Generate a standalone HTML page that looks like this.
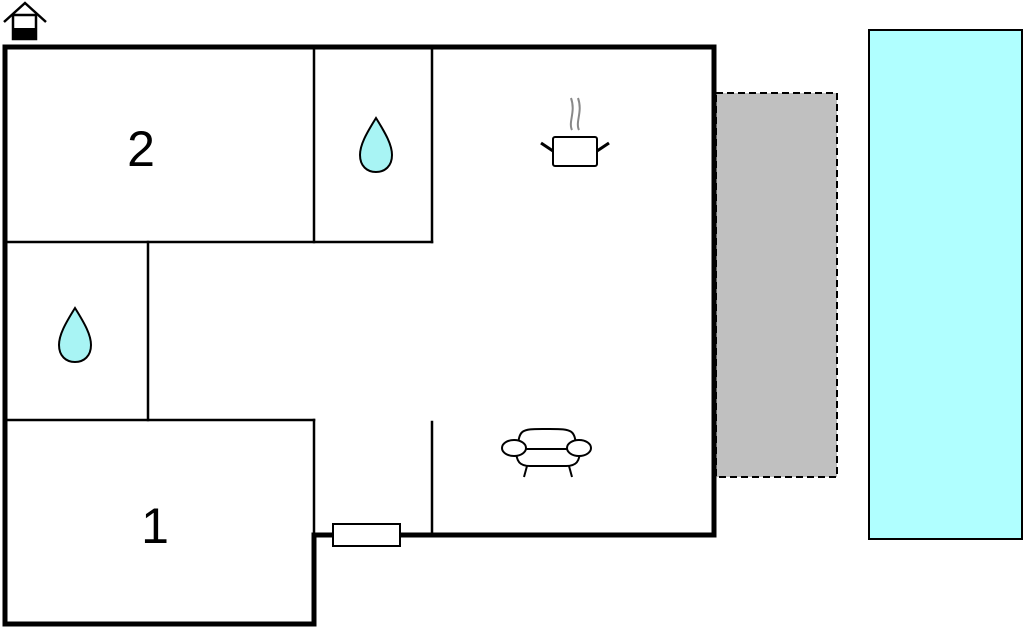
<!DOCTYPE html>
<html><head><meta charset="utf-8"><style>
html,body{margin:0;padding:0;background:#fff;width:1024px;height:627px;overflow:hidden}
svg{display:block}
</style></head><body>
<svg width="1024" height="627" viewBox="0 0 1024 627" xmlns="http://www.w3.org/2000/svg">
<rect x="716" y="93" width="121" height="384" fill="#c0c0c0" stroke="#000" stroke-width="2" stroke-dasharray="7,4"/>
<rect x="869" y="30" width="153" height="509" fill="#b0ffff" stroke="#000" stroke-width="2"/>
<g stroke="#000" fill="none" stroke-linecap="square">
<path d="M5 47 H714 V535 H314 V624 H5 Z" stroke-width="5"/>
<g stroke-width="2.5">
<line x1="314" y1="47" x2="314" y2="242"/>
<line x1="432" y1="47" x2="432" y2="242"/>
<line x1="5" y1="242" x2="432" y2="242"/>
<line x1="148" y1="242" x2="148" y2="420"/>
<line x1="5" y1="420" x2="314" y2="420"/>
<line x1="314" y1="420" x2="314" y2="535"/>
<line x1="432" y1="422" x2="432" y2="535"/>
</g>
</g>
<rect x="333" y="524" width="67" height="22" fill="#fff" stroke="#000" stroke-width="2"/>
<!-- house icon -->
<g stroke="#000" stroke-width="2.5" fill="none">
<polyline points="4,22 25,3 46,22"/>
<rect x="13" y="15" width="23" height="24" fill="#fff"/>
</g>
<rect x="13" y="28" width="23" height="11" fill="#000"/>
<!-- drops -->
<path d="M376 118 C366 134 360 145 360 155 C360 166 367 172 376 172 C385 172 392 166 392 155 C392 145 386 134 376 118 Z" fill="#a8f4f4" stroke="#000" stroke-width="2"/>
<path d="M75 308 C65 324 59 335 59 345 C59 356 66 362 75 362 C84 362 91 356 91 345 C91 335 85 324 75 308 Z" fill="#a8f4f4" stroke="#000" stroke-width="2"/>
<!-- pot -->
<g fill="none">
<path d="M572 130 C568 122 576 112 571 98" stroke="#888" stroke-width="2"/>
<path d="M579 130 C575 122 583 112 578 98" stroke="#888" stroke-width="2"/>
<rect x="553" y="137" width="44" height="29" rx="2" fill="#fff" stroke="#000" stroke-width="2"/>
<line x1="541" y1="143" x2="553" y2="151" stroke="#000" stroke-width="3"/>
<line x1="609" y1="143" x2="597" y2="151" stroke="#000" stroke-width="3"/>
</g>
<!-- armchair -->
<g stroke="#000" stroke-width="2" fill="#fff">
<path d="M518 452 C518 428 522 429 546 429 C572 429 576 428 576 452 Z"/>
<path d="M516 449 L580 449 C580 462 576 466 566 466 L530 466 C520 466 516 462 516 449 Z"/>
<ellipse cx="514" cy="448" rx="12" ry="8"/>
<ellipse cx="579" cy="448" rx="12" ry="8"/>
<line x1="527" y1="466" x2="524" y2="477"/>
<line x1="569" y1="466" x2="572" y2="477"/>
</g>
<g font-family="Liberation Sans, sans-serif" font-size="50" text-anchor="middle" fill="#000">
<text x="141" y="166">2</text>
<text x="155" y="543">1</text>
</g>
</svg>
</body></html>
